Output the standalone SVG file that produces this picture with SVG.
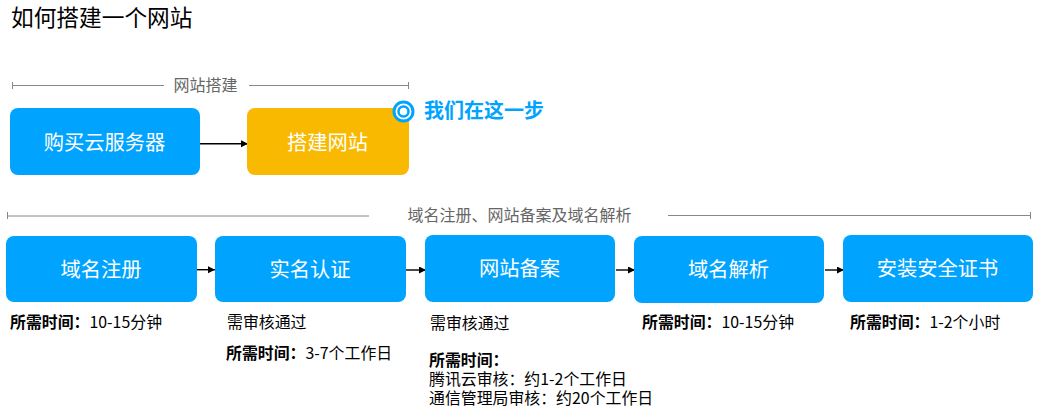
<svg xmlns="http://www.w3.org/2000/svg" width="1039" height="413" viewBox="0 0 1039 413">
<style>
text{font-family:"Noto Sans CJK SC","Liberation Sans",sans-serif}
.box{fill:#00a4ff}
.nt{fill:#fff;font-size:20.300px;text-anchor:middle}
.sec{fill:#666;font-size:16px;text-anchor:middle}
.rule{stroke:#888;stroke-width:1;fill:none}
.conn{stroke:#000;stroke-width:1.400;fill:none;marker-end:url(#a)}
.d{fill:#000;font-size:15.900px}
.b{font-weight:700}
</style>
<defs><marker id="a" markerUnits="userSpaceOnUse" markerWidth="8" markerHeight="8" refX="7" refY="3.500" orient="auto"><path d="M0 0L7 3.500L0 7Z" fill="#000"/></marker></defs>
<rect width="1039" height="413" fill="#fff"/>
<text x="11" y="26" font-size="22.700" fill="#000">如何搭建一个网站</text>
<g id="rules">
<path class="rule" d="M12.500 82V89M12.500 85.500H164M249 85.500H408.500M408.500 82V89"/>
<path class="rule" d="M7.500 212V219M7.500 216H369M668 215.500H1030.500M1030.500 212V219"/>
</g>
<text class="sec" x="205.500" y="90.500">网站搭建</text>
<text class="sec" x="519.500" y="220.500">域名注册、网站备案及域名解析</text>
<g id="connectors">
<line class="conn" x1="200" y1="143.700" x2="248" y2="143.700"/>
<line class="conn" x1="195" y1="269.700" x2="215" y2="269.700"/>
<line class="conn" x1="406" y1="270" x2="426" y2="270"/>
<line class="conn" x1="616" y1="270" x2="635" y2="270"/>
<line class="conn" x1="825" y1="270" x2="844" y2="270"/>
</g>
<g id="n1"><rect class="box" x="10" y="108" width="190" height="67" rx="8"/><text class="nt" x="104.500" y="150">购买云服务器</text></g>
<g id="n2"><rect x="247" y="108" width="162" height="67" rx="8" fill="#f8b900"/><text class="nt" x="327.500" y="150">搭建网站</text></g>
<g id="marker"><circle cx="403.500" cy="111.500" r="9.500" fill="#fff" stroke="#00a4ff" stroke-width="3"/><circle cx="403.500" cy="111.500" r="5" fill="#fff" stroke="#00a4ff" stroke-width="2.500"/></g>
<text x="424" y="118" font-size="20" font-weight="700" fill="#00a4ff">我们在这一步</text>
<g id="n3"><rect class="box" x="6" y="236" width="191" height="66" rx="8"/><text class="nt" x="101" y="277">域名注册</text></g>
<g id="n4"><rect class="box" x="215" y="236" width="191" height="66" rx="8"/><text class="nt" x="310" y="277">实名认证</text></g>
<g id="n5"><rect class="box" x="425" y="235" width="190" height="67" rx="8"/><text class="nt" x="519.500" y="276">网站备案</text></g>
<g id="n6"><rect class="box" x="634" y="236" width="190" height="67" rx="8"/><text class="nt" x="728.500" y="277">域名解析</text></g>
<g id="n7"><rect class="box" x="843" y="235" width="190" height="67" rx="8"/><text class="nt" x="937.500" y="276">安装安全证书</text></g>
<text class="d" x="10" y="328"><tspan class="b">所需时间：</tspan>10-15分钟</text>
<text class="d" x="227" y="328">需审核通过</text>
<text class="d" x="226" y="359"><tspan class="b">所需时间：</tspan>3-7个工作日</text>
<text class="d" x="430" y="329">需审核通过</text>
<text class="d"><tspan class="b" x="429" y="366">所需时间：</tspan><tspan x="429" y="385">腾讯云审核：约1-2个工作日</tspan><tspan x="429" y="404">通信管理局审核：约20个工作日</tspan></text>
<text class="d" x="642" y="328"><tspan class="b">所需时间：</tspan>10-15分钟</text>
<text class="d" x="850" y="328"><tspan class="b">所需时间：</tspan>1-2个小时</text>
</svg>
